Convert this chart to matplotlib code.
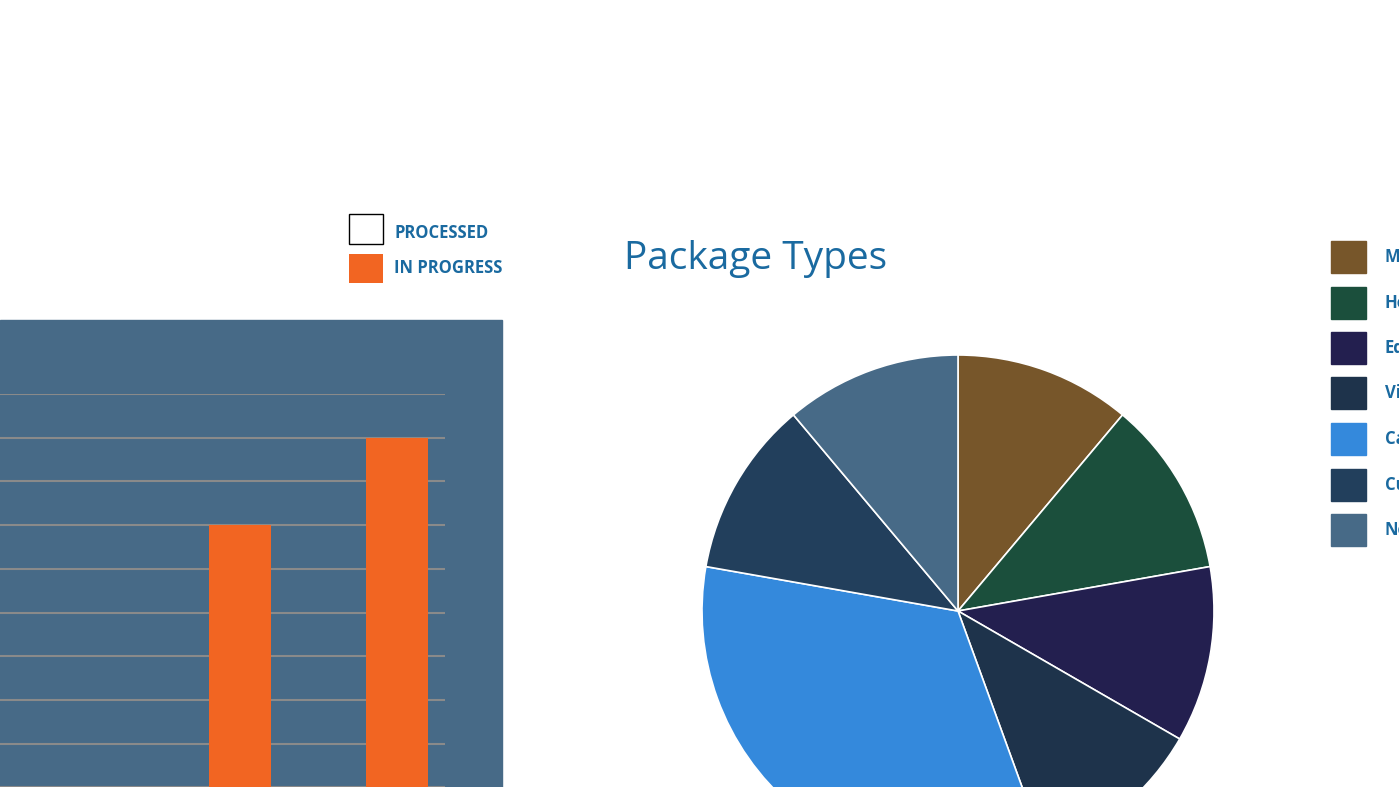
import matplotlib
matplotlib.use("Agg")
import matplotlib.pyplot as plt
from matplotlib.patches import Rectangle

bar_cats = ["A", "B"]
processed = [0, 0]
in_progress = [7, 9]

pie_labels = ["Medical", "Household", "Education", "Vitamins", "Cargo", "Custom", "Normal"]
pie_values = [1, 1, 1, 1, 3, 1, 1]
pie_colors = ["#77562a", "#1b4f3c", "#231f4f", "#1e334b", "#3489dc", "#223f5c", "#476a87"]

W, H = 1399, 787
fig = plt.figure(figsize=(W/100, H/100), dpi=100)
blue = "#1a6aa0"
fam = ["Open Sans", "DejaVu Sans"]

def fx(px): return px / W
def fy(py): return 1 - py / H

fig.patches.append(Rectangle((0, fy(840)), fx(502), fy(320) - fy(840),
                             transform=fig.transFigure, color="#476a87", zorder=-5))
unit = 43.7
top_px = 831 - 10 * unit
ax = fig.add_axes([0, fy(831), fx(445), (831 - top_px) / H])
ax.set_zorder(3)
ax.set_facecolor("none")
ax.set_ylim(0, 10)
xs = list(range(len(bar_cats)))
ax.set_xlim(-240/157, 1 + 48/157)
for y in range(1, 11):
    ax.axhline(y, color="#8a8a8a", lw=1.5, zorder=1)
ax.bar(xs, in_progress, width=0.4, color="#f26522", zorder=3)
ax.bar(xs, processed, width=0.4, color="white", zorder=2)
ax.axis("off")

fig.patches.append(Rectangle((fx(349), fy(244)), fx(34), fy(214) - fy(244),
                             transform=fig.transFigure, facecolor="white", edgecolor="black", lw=1))
fig.patches.append(Rectangle((fx(349), fy(283)), fx(34), fy(254) - fy(283),
                             transform=fig.transFigure, facecolor="#f26522"))
fig.text(fx(394), fy(233), "PROCESSED", color=blue, fontsize=12, fontweight="bold", va="center", family=fam)
fig.text(fx(394), fy(268), "IN PROGRESS", color=blue, fontsize=12, fontweight="bold", va="center", family=fam)

fig.text(fx(624), fy(259), "Package Types", color=blue, fontsize=28, va="center", family=fam)
r = 256
pax = fig.add_axes([fx(958 - r), fy(611 + r), 2*r/W, 2*r/H])
pax.pie(pie_values, colors=pie_colors, startangle=90, counterclock=False,
        wedgeprops=dict(edgecolor="white", linewidth=1.2))
pax.set_xlim(-1, 1); pax.set_ylim(-1, 1)
pax.set_aspect("auto")
pax.axis("off")
for p in pax.patches:
    p.set_clip_on(False)

for i, (lab, c) in enumerate(zip(pie_labels, pie_colors)):
    yc = 257 + i * 45.5
    fig.patches.append(Rectangle((fx(1331), fy(yc + 16)), fx(35), 32/H,
                                 transform=fig.transFigure, color=c))
    fig.text(fx(1385), fy(yc), lab, color=blue, fontsize=12, fontweight="bold", va="center", family=fam)

fig.savefig("out.png", dpi=100)
